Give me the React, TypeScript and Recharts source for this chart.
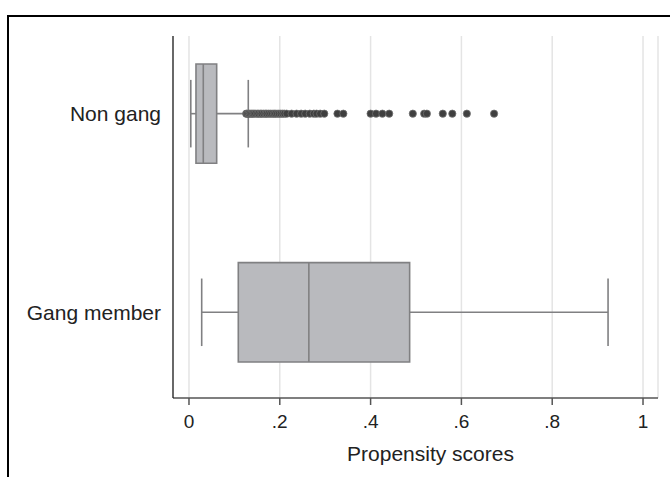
import React from 'react';
import {
  ComposedChart,
  Scatter,
  XAxis,
  YAxis,
  CartesianGrid,
  ReferenceArea,
  ReferenceLine,
} from 'recharts';

// groups, top to bottom
const groups = ['Non gang', 'Gang member'];
const groupPos = [1, 2];

// box plot summary per group (propensity scores)
const lowerWhisker = [0.004, 0.028];
const q1 = [0.0154, 0.1086];
const median = [0.0315, 0.264];
const q3 = [0.061, 0.486];
const upperWhisker = [0.1306, 0.923];

// outside values, non gang only
const nonGangOutliers = [
  0.126, 0.128, 0.131, 0.134, 0.137, 0.14, 0.143, 0.146, 0.15, 0.153, 0.157,
  0.16, 0.164, 0.168, 0.171, 0.175, 0.179, 0.183, 0.187, 0.19, 0.194, 0.198,
  0.202, 0.206, 0.21, 0.215, 0.226, 0.237, 0.247, 0.256, 0.266, 0.275, 0.281,
  0.289, 0.298, 0.327, 0.34, 0.4, 0.412, 0.426, 0.441, 0.493, 0.518, 0.524,
  0.559, 0.58, 0.612, 0.672,
];

const xTicks = [0, 0.2, 0.4, 0.6, 0.8, 1];

const BOX_HALF = 0.25;
const CAP_HALF = 0.17;
const LINE = '#808082';

const outlierData = nonGangOutliers.map((v) => ({ x: v, y: groupPos[0] }));

const fmtX = (v: number) => (v === 0 ? '0' : v === 1 ? '1' : String(v).replace(/^0/, ''));

const Dot = (props: any) => (
  <circle cx={props.cx} cy={props.cy} r={3.6} fill="#3f3f3f" stroke="#6e6e6e" strokeWidth={0.8} />
);

export default function App() {
  return (
    <div
      style={{
        position: 'absolute',
        left: 0,
        top: 0,
        width: 670,
        height: 477,
        overflow: 'hidden',
        background: '#fff',
        fontFamily: '"Liberation Sans", Arial, sans-serif',
      }}
    >
      <div
        style={{
          position: 'absolute',
          left: 7,
          top: 15,
          width: 700,
          height: 500,
          borderTop: '2px solid #000',
          borderLeft: '2px solid #000',
        }}
      />
      <div style={{ position: 'absolute', left: 0, top: 0 }}>
        <ComposedChart width={670} height={477} margin={{ top: 36, right: 12, bottom: 0, left: 0 }}>
          <CartesianGrid horizontal={false} stroke="#e4e4e4" strokeWidth={1.5} />
          <XAxis
            type="number"
            dataKey="x"
            domain={[-0.0352, 1.033]}
            allowDataOverflow
            ticks={xTicks}
            tickFormatter={fmtX}
            height={79}
            stroke="#555"
            strokeWidth={1.5}
            tickSize={7}
            tickMargin={10}
            tick={{ fontSize: 19, fill: '#222' }}
            label={{
              value: 'Propensity scores',
              position: 'insideBottom',
              offset: 16,
              dx: 15,
              fontSize: 21,
              fill: '#222',
            }}
          />
          <YAxis
            type="number"
            dataKey="y"
            domain={[0.609, 2.4315]}
            allowDataOverflow
            reversed
            ticks={groupPos}
            tickFormatter={(v: number) => groups[groupPos.indexOf(v)] ?? ''}
            width={173}
            axisLine={{ stroke: '#111', strokeWidth: 1.2 }}
            tickLine={false}
            tickSize={6}
            tickMargin={6}
            tick={{ fontSize: 21, fill: '#222' }}
          />
          {groups.map((g, i) => (
            <ReferenceLine
              key={g + '-lw'}
              segment={[
                { x: lowerWhisker[i], y: groupPos[i] },
                { x: q1[i], y: groupPos[i] },
              ]}
              stroke={LINE}
              strokeWidth={1.6}
            />
          ))}
          {groups.map((g, i) => (
            <ReferenceLine
              key={g + '-uw'}
              segment={[
                { x: q3[i], y: groupPos[i] },
                { x: upperWhisker[i], y: groupPos[i] },
              ]}
              stroke={LINE}
              strokeWidth={1.6}
            />
          ))}
          {groups.map((g, i) => (
            <ReferenceLine
              key={g + '-lc'}
              segment={[
                { x: lowerWhisker[i], y: groupPos[i] - CAP_HALF },
                { x: lowerWhisker[i], y: groupPos[i] + CAP_HALF },
              ]}
              stroke={LINE}
              strokeWidth={1.6}
            />
          ))}
          {groups.map((g, i) => (
            <ReferenceLine
              key={g + '-uc'}
              segment={[
                { x: upperWhisker[i], y: groupPos[i] - CAP_HALF },
                { x: upperWhisker[i], y: groupPos[i] + CAP_HALF },
              ]}
              stroke={LINE}
              strokeWidth={1.6}
            />
          ))}
          {groups.map((g, i) => (
            <ReferenceArea
              key={g + '-box'}
              x1={q1[i]}
              x2={q3[i]}
              y1={groupPos[i] - BOX_HALF}
              y2={groupPos[i] + BOX_HALF}
              fill="#b9babe"
              fillOpacity={1}
              stroke={LINE}
              strokeWidth={1.6}
            />
          ))}
          {groups.map((g, i) => (
            <ReferenceLine
              key={g + '-med'}
              segment={[
                { x: median[i], y: groupPos[i] - BOX_HALF },
                { x: median[i], y: groupPos[i] + BOX_HALF },
              ]}
              stroke={LINE}
              strokeWidth={1.6}
            />
          ))}
          <Scatter data={outlierData} shape={Dot} isAnimationActive={false} />
        </ComposedChart>
      </div>
    </div>
  );
}
